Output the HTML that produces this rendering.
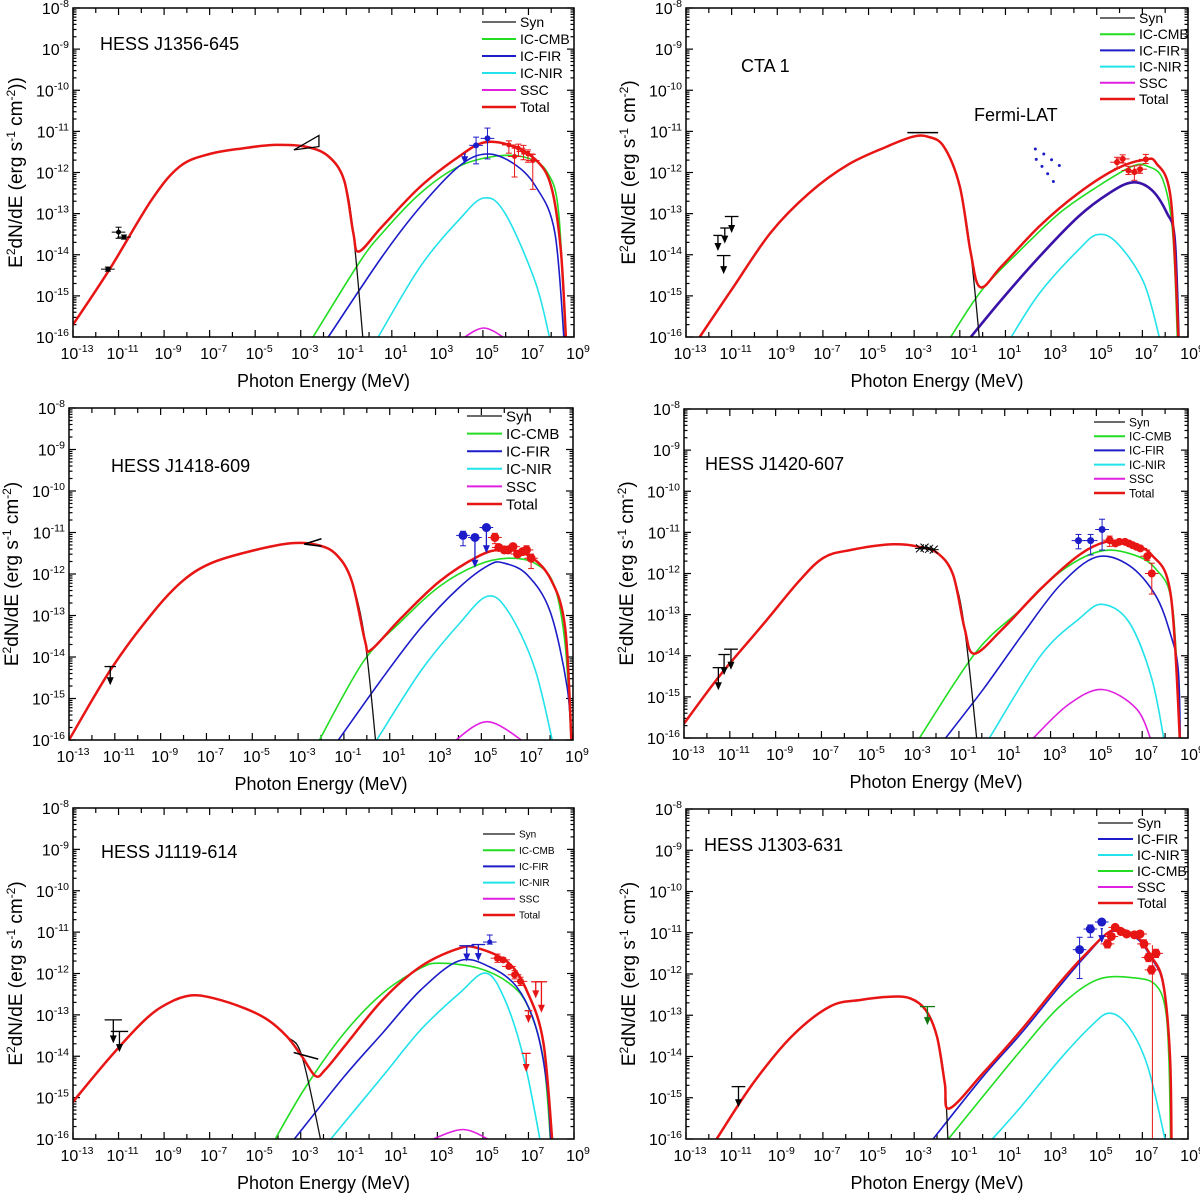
<!DOCTYPE html>
<html><head><meta charset="utf-8"><style>
html,body{margin:0;padding:0;background:#fff}
svg{display:block;font-family:"Liberation Sans",Arial,sans-serif}
</style></head><body>
<svg id="chart" xmlns="http://www.w3.org/2000/svg" width="1200" height="1193" viewBox="0 0 1200 1193"></svg>
<script>
// ===== shared axis data =====
const xTickExps = [-13,-11,-9,-7,-5,-3,-1,1,3,5,7,9];
const yTickExps = [-16,-15,-14,-13,-12,-11,-10,-9,-8];

// ===== Panel 1: HESS J1356-645 =====
const p1Total = [[-13,-15.7],[-11.4,-14.36],[-9.54,-12.66],[-8.3,-11.85],[-7.0,-11.55],[-5.5,-11.41],[-4.15,-11.33],[-2.8,-11.37],[-1.8,-11.6],[-1.1,-12.18],[-0.69,-13.47],[-0.44,-13.92],[0.58,-13.31],[2.26,-12.34],[3.95,-11.61],[5.04,-11.27],[6.14,-11.33],[7.32,-11.69],[8.0,-12.34],[8.42,-13.88],[8.67,-16.3]];
const p1Syn = [[-13,-15.7],[-11.4,-14.36],[-9.54,-12.66],[-8.3,-11.85],[-7.0,-11.55],[-5.5,-11.41],[-4.15,-11.33],[-2.8,-11.37],[-1.8,-11.6],[-1.1,-12.18],[-0.69,-13.47],[-0.23,-16.3]];
const p1Cmb = [[-2.46,-16],[-0.44,-14.2],[0.58,-13.47],[2.26,-12.5],[3.95,-11.85],[5.63,-11.6],[6.98,-11.65],[7.83,-12.0],[8.33,-12.99],[8.64,-16.3]];
const p1Fir = [[-1.79,-16],[0.58,-14.04],[2.26,-12.83],[3.95,-11.85],[5.13,-11.55],[6.31,-11.77],[7.32,-12.34],[8.16,-13.47],[8.59,-16.3]];
const p1Nir = [[0.4,-16],[2.26,-14.28],[3.95,-13.15],[5.04,-12.62],[5.97,-12.99],[7.32,-14.69],[8.0,-16.2]];
const p1Ssc = [[3.95,-16.1],[5.04,-15.78],[6.14,-16.1]];
const p1BlackPts = [[-11.0,-13.45,0.15,0.12],[-10.76,-13.57,0.05,0.05],[-11.47,-14.35,0.05,0.05]];
const p1BluePts = [[4.7,-11.34,0.45,0.2],[5.2,-11.17,0.5,0.25]];
const p1BlueUL = [[4.2,-11.55,0.05,0.25]];
const p1RedPts = [[6.14,-11.33,0.2,0.1],[6.39,-11.61,0.5,0.25],[6.56,-11.41,0.2,0.1],[6.78,-11.49,0.2,0.15],[6.98,-11.55,0.2,0.1],[7.19,-11.71,0.7,0.15]];
const p1Butterfly = [[-3.3,-11.45],[-2.2,-11.1],[-2.2,-11.37]];

// ===== Panel 2: CTA 1 =====
const p2Total = [[-12.4,-16],[-11,-14.85],[-9.3,-13.47],[-7.6,-12.5],[-5.9,-11.81],[-4.2,-11.37],[-3.05,-11.13],[-2.4,-11.13],[-1.7,-11.37],[-1.0,-12.34],[-0.52,-13.96],[-0.1,-14.79],[0.83,-14.28],[2.5,-13.3],[4.2,-12.5],[5.9,-11.9],[7.1,-11.69],[7.6,-11.77],[8.25,-12.66],[8.6,-16.3]];
const p2Syn = [[-12.4,-16],[-11,-14.85],[-9.3,-13.47],[-7.6,-12.5],[-5.9,-11.81],[-4.2,-11.37],[-3.05,-11.13],[-2.4,-11.13],[-1.7,-11.37],[-1.0,-12.34],[-0.52,-13.96],[-0.1,-16.3]];
const p2Cmb = [[-1.4,-16],[-0.02,-14.85],[1.67,-13.88],[3.36,-12.99],[5.04,-12.34],[6.56,-11.85],[7.24,-11.85],[7.9,-12.18],[8.33,-13.47],[8.55,-16.3]];
const p2Fir = [[-0.52,-16],[0.83,-15.09],[2.5,-14.04],[4.2,-13.07],[5.55,-12.5],[6.56,-12.24],[7.4,-12.42],[8.08,-12.99],[8.42,-13.64],[8.6,-16.3]];
const p2Nir = [[1.25,-16],[2.5,-14.93],[4.2,-13.88],[5.04,-13.51],[5.9,-13.72],[7.07,-14.69],[7.83,-16.2]];
const p2BlackUL = [[-11.6,-13.53,0.2,0.38],[-11.3,-13.35,0.2,0.38],[-11.0,-13.07,0.3,0.4],[-11.35,-14.02,0.3,0.45]];
const p2RedPts = [[5.89,-11.75,0.15,0.12],[6.14,-11.67,0.1,0.1],[6.39,-11.95,0.1,0.1],[6.65,-11.99,0.2,0.15],[6.9,-11.92,0.1,0.1],[7.15,-11.68,0.1,0.12]];
const p2FermiE = [2.31,2.68,3.02,3.36,2.35,2.6,2.85,3.1];
const p2FermiF = [-11.43,-11.55,-11.69,-11.83,-11.68,-11.85,-12.03,-12.22];
const p2Segs = [[-3.3,-11.03,-1.95,-11.03]];

// ===== Panel 3: HESS J1418-609 =====
const p3Total = [[-13,-16],[-11.14,-14.27],[-9.3,-12.9],[-8.0,-12.15],[-6.8,-11.74],[-5.15,-11.46],[-3.32,-11.26],[-2.15,-11.3],[-1.32,-11.54],[-0.65,-12.18],[-0.07,-13.63],[0.18,-13.83],[1.5,-13.06],[3.17,-12.18],[4.84,-11.58],[5.84,-11.42],[7.0,-11.54],[8.0,-12.1],[8.66,-13.31],[8.95,-16.3]];
const p3Syn = [[-13,-16],[-11.14,-14.27],[-9.3,-12.9],[-8.0,-12.15],[-6.8,-11.74],[-5.15,-11.46],[-3.32,-11.26],[-2.15,-11.3],[-1.32,-11.54],[-0.65,-12.18],[-0.07,-13.63],[0.43,-16.3]];
const p3Cmb = [[-2.07,-16],[-0.15,-14.11],[1.5,-13.14],[3.17,-12.3],[4.84,-11.78],[6.17,-11.62],[7.33,-11.74],[8.17,-12.26],[8.66,-13.71],[8.95,-16.3]];
const p3Fir = [[-1.24,-16],[0.68,-14.51],[2.34,-13.31],[4.0,-12.34],[5.34,-11.78],[6.0,-11.74],[7.0,-12.02],[8.0,-12.9],[8.75,-14.75],[8.95,-16.3]];
const p3Nir = [[0.43,-16],[2.34,-14.35],[4.0,-13.22],[5.25,-12.54],[6.17,-12.9],[7.33,-14.27],[8.17,-16.2]];
const p3Ssc = [[3.67,-16.1],[5.25,-15.56],[7.0,-16.1]];
const p3BlackUL = [[-11.2,-14.23,0.25,0.45]];
const p3BluePts = [[4.2,-11.07,0.25,0.1],[4.72,-11.12,0.03,0.03],[5.22,-10.88,0.05,0.05]];
const p3BlueUL = [[4.72,-11.15,0.2,0.7],[5.22,-10.9,0.2,0.6]];
const p3RedPts = [[5.59,-11.12,0.15,0.1],[5.76,-11.36,0.05,0.05],[6.0,-11.42,0.05,0.05],[6.17,-11.42,0.05,0.05],[6.38,-11.34,0.05,0.05],[6.58,-11.52,0.05,0.05],[6.8,-11.46,0.05,0.05],[6.97,-11.42,0.1,0.1],[7.17,-11.62,0.25,0.1]];
const p3Segs = [[-2.73,-11.28,-1.98,-11.15],[-2.73,-11.28,-1.98,-11.33]];

// ===== Panel 4: HESS J1420-607 =====
const p4Total = [[-13,-15.65],[-11.42,-14.47],[-9.58,-13.26],[-8.0,-12.2],[-6.92,-11.62],[-5.75,-11.43],[-3.92,-11.29],[-2.75,-11.35],[-1.92,-11.51],[-1.25,-12.04],[-0.75,-13.34],[-0.33,-13.95],[0.92,-13.34],[2.58,-12.37],[4.25,-11.55],[5.42,-11.23],[6.42,-11.27],[7.42,-11.55],[8.25,-12.53],[8.67,-16.3]];
const p4Syn = [[-13,-15.65],[-11.42,-14.47],[-9.58,-13.26],[-8.0,-12.2],[-6.92,-11.62],[-5.75,-11.43],[-3.92,-11.29],[-2.75,-11.35],[-1.92,-11.51],[-1.25,-12.04],[-0.75,-13.34],[-0.17,-16.3]];
const p4Cmb = [[-2.72,-16],[-0.25,-13.91],[1.75,-12.85],[3.42,-11.96],[5.08,-11.47],[6.42,-11.51],[7.58,-11.88],[8.33,-12.85],[8.67,-16.3]];
const p4Fir = [[-1.58,-16],[0.08,-14.8],[1.75,-13.5],[3.42,-12.28],[5.0,-11.6],[6.42,-11.8],[7.58,-12.53],[8.25,-13.5],[8.58,-14.39],[8.67,-16.3]];
const p4Nir = [[0.33,-16],[2.58,-13.99],[4.25,-13.1],[5.25,-12.75],[6.42,-13.18],[7.42,-14.56],[8.0,-16.2]];
const p4Ssc = [[2.25,-16],[3.75,-15.2],[5.25,-14.82],[6.75,-15.29],[7.42,-16.1]];
const p4BlackUL = [[-11.5,-14.29,0.25,0.55],[-11.25,-13.97,0.25,0.5],[-10.95,-13.84,0.3,0.5]];
const p4BluePts = [[4.22,-11.2,0.2,0.15],[4.75,-11.2,0.35,0.15],[5.25,-10.93,0.5,0.25]];
const p4RedPts = [[5.58,-11.19,0.15,0.1],[5.83,-11.27,0.05,0.05],[6.0,-11.23,0.05,0.05],[6.25,-11.23,0.05,0.05],[6.42,-11.27,0.05,0.05],[6.58,-11.31,0.05,0.05],[6.75,-11.35,0.05,0.05],[6.92,-11.39,0.05,0.05],[7.22,-11.58,0.1,0.15],[7.42,-12.0,0.5,0.25]];
const p4Stars = [[-2.7,-11.39],[-2.5,-11.37],[-2.3,-11.4],[-2.1,-11.42]];

// ===== Panel 5: HESS J1119-614 =====
const p5Total = [[-13,-15.1],[-11.35,-14.01],[-9.84,-13.12],[-8.83,-12.72],[-7.82,-12.53],[-6.81,-12.6],[-5.46,-12.84],[-4.45,-13.12],[-3.61,-13.52],[-2.94,-14.01],[-2.35,-14.48],[-1.93,-14.33],[-1.09,-13.77],[0.59,-12.64],[2.27,-11.83],[3.96,-11.39],[4.8,-11.39],[6.14,-11.75],[6.98,-12.48],[7.66,-13.69],[8.08,-16.3]];
const p5Syn = [[-13,-15.1],[-11.35,-14.01],[-9.84,-13.12],[-8.83,-12.72],[-7.82,-12.53],[-6.81,-12.6],[-5.46,-12.84],[-4.45,-13.12],[-3.61,-13.52],[-2.94,-14.01],[-2.02,-16.3]];
const p5Cmb = [[-4.12,-16],[-2.77,-14.73],[-1.09,-13.44],[0.59,-12.48],[2.27,-11.87],[3.11,-11.75],[4.8,-11.87],[6.14,-12.23],[6.98,-12.8],[7.66,-14.09],[8.0,-16.3]];
const p5Fir = [[-3.28,-16],[-1.09,-14.49],[0.59,-13.44],[2.27,-12.4],[3.96,-11.69],[5.3,-11.84],[6.48,-12.32],[7.32,-13.28],[7.82,-14.73],[8.0,-16.3]];
const p5Nir = [[-1.68,-16],[0.59,-14.49],[2.27,-13.36],[3.96,-12.48],[5.13,-11.99],[5.97,-12.64],[6.81,-14.09],[7.57,-16.2]];
const p5Ssc = [[2.61,-16.05],[4.12,-15.77],[5.38,-16.05]];
const p5BlackUL = [[-11.23,-13.12,0.38,0.57],[-10.96,-13.4,0.38,0.5]];
const p5BlueUL = [[4.29,-11.33,0.33,0.38],[4.8,-11.3,0.3,0.4]];
const p5BluePts = [[5.3,-11.24,0.05,0.17]];
const p5RedPts = [[5.64,-11.63,0.1,0.1],[5.89,-11.67,0.05,0.05],[6.14,-11.83,0.05,0.05],[6.39,-12.03,0.1,0.1],[6.65,-12.19,0.1,0.1]];
const p5RedUL = [[7.0,-12.9,0.17,0.3],[7.32,-12.2,0.2,0.4],[7.57,-12.2,0.25,0.75],[6.9,-13.93,0.2,0.45]];
const p5Segs = [[-3.31,-13.91,-2.23,-14.07]];

// ===== Panel 6: HESS J1303-631 =====
const p6Total = [[-11.66,-16],[-10.06,-14.65],[-8.38,-13.52],[-6.7,-12.79],[-5.36,-12.63],[-4.02,-12.55],[-3.18,-12.59],[-2.5,-12.87],[-2.0,-13.52],[-1.66,-14.65],[-1.46,-15.26],[0.01,-14.41],[1.69,-13.36],[3.37,-12.22],[4.55,-11.5],[5.72,-10.93],[6.73,-11.09],[7.4,-11.58],[7.91,-12.22],[8.21,-14.0],[8.28,-16.3]];
const p6Syn = [[-11.66,-16],[-10.06,-14.65],[-8.38,-13.52],[-6.7,-12.79],[-5.36,-12.63],[-4.02,-12.55],[-3.18,-12.59],[-2.5,-12.87],[-2.0,-13.52],[-1.66,-14.65],[-1.5,-16.3]];
const p6Fir = [[-2.17,-16],[0.01,-14.49],[1.69,-13.44],[3.37,-12.3],[4.55,-11.54],[5.64,-10.97],[6.73,-11.13],[7.4,-11.62],[7.91,-12.26],[8.21,-14.0],[8.27,-16.3]];
const p6Cmb = [[-1.5,-16],[0.01,-14.97],[1.69,-13.84],[3.37,-12.79],[5.06,-12.13],[6.73,-12.1],[7.57,-12.26],[7.99,-12.79],[8.16,-14.0],[8.24,-16.3]];
const p6Nir = [[0.43,-16],[1.69,-15.21],[3.37,-14.08],[4.72,-13.28],[5.56,-12.95],[6.4,-13.28],[7.24,-14.25],[8.07,-16.2]];
const p6BlackUL = [[-10.7,-14.73,0.3,0.5]];
const p6GreenUL = [[-2.42,-12.79,0.33,0.45]];
const p6BluePts = [[4.25,-11.41,0.7,0.3],[4.72,-10.91,0.2,0.1],[5.22,-10.74,0.05,0.05]];
const p6BlueUL = [[5.22,-10.9,0.05,0.35]];
const p6RedPts = [[5.47,-11.27,0.1,0.1],[5.64,-11.09,0.05,0.05],[5.81,-10.87,0.05,0.05],[6.06,-10.97,0.05,0.05],[6.31,-11.03,0.05,0.05],[6.65,-11.05,0.05,0.05],[6.9,-11.03,0.05,0.05],[7.07,-11.27,0.1,0.1],[7.27,-11.6,0.1,0.1],[7.4,-11.9,0.1,0.1],[7.6,-11.5,0.1,0.1]];
const p6RedLine = [[7.44,-11.3],[7.44,-16]];

// ===== drawing =====
const NS = 'http://www.w3.org/2000/svg';
const svg = document.getElementById('chart');
function mk(tag, attrs, parent){
  const e = document.createElementNS(NS, tag);
  for (const k in attrs) e.setAttribute(k, attrs[k]);
  (parent || svg).appendChild(e);
  return e;
}
const C = {red:'#e81515', green:'#22dd22', blue:'#1c1cc8', cyan:'#22e2ea', mag:'#e020e0', black:'#111'};

function curvePath(pts, sx, sy){
  const P = pts.map(p => [sx(p[0]), sy(p[1])]);
  let d = 'M' + P[0][0].toFixed(1) + ',' + P[0][1].toFixed(1);
  for (let i = 0; i < P.length - 1; i++){
    const p0 = P[i-1] || P[i], p1 = P[i], p2 = P[i+1], p3 = P[i+2] || P[i+1];
    const c1x = p1[0] + (p2[0]-p0[0])/6, c1y = p1[1] + (p2[1]-p0[1])/6;
    const c2x = p2[0] - (p3[0]-p1[0])/6, c2y = p2[1] - (p3[1]-p1[1])/6;
    d += ' C' + c1x.toFixed(1)+','+c1y.toFixed(1)+' '+c2x.toFixed(1)+','+c2y.toFixed(1)+' '+p2[0].toFixed(1)+','+p2[1].toFixed(1);
  }
  return d;
}

function drawPanel(cfg){
  const g = mk('g', {});
  
  
  const {x0,x1,y0,y1} = cfg;
  const sx = e => x0 + (e + 13) / 22 * (x1 - x0);
  const sy = f => y0 + (-8 - f) / 8 * (y1 - y0);
  const clipId = 'clip-' + cfg.name;
  const cp = mk('clipPath', {id: clipId}, g);
  mk('rect', {x:x0, y:y0, width:x1-x0, height:y1-y0}, cp);

  const ticks = mk('g', {stroke:'#000', 'stroke-width':1.2}, g);
  
  
  for (let e = -13; e <= 9; e++){
    const x = sx(e), L = (e % 2 !== 0) ? 7 : 5;
    mk('line', {x1:x, x2:x, y1:y1, y2:y1-L}, ticks);
    mk('line', {x1:x, x2:x, y1:y0, y2:y0+L}, ticks);
  }
  for (let f = -16; f <= -8; f++){
    const y = sy(f);
    mk('line', {x1:x0, x2:x0+7, y1:y, y2:y}, ticks);
    mk('line', {x1:x1, x2:x1-7, y1:y, y2:y}, ticks);
    if (f < -8) for (let m = 2; m <= 9; m++){
      const ym = sy(f + Math.log10(m));
      mk('line', {x1:x0, x2:x0+3.5, y1:ym, y2:ym}, ticks);
      mk('line', {x1:x1, x2:x1-3.5, y1:ym, y2:ym}, ticks);
    }
  }
  xTickExps.forEach(e => {
    const t = mk('text', {x:sx(e)+4, y:y1+22, 'font-size':16, 'text-anchor':'middle', fill:'#000'}, g);
    
    
    t.textContent = '10';
    const s = mk('tspan', {dy:-7, 'font-size':10.5}, t); s.textContent = String(e);
  });
  yTickExps.forEach(f => {
    const t = mk('text', {x:x0-4, y:sy(f)+6, 'font-size':16, 'text-anchor':'end', fill:'#000'}, g);
    
    
    t.textContent = '10';
    const s = mk('tspan', {dy:-7, 'font-size':10.5}, t); s.textContent = String(f);
  });
  const xt = mk('text', {x:(x0+x1)/2, y:y1+50, 'font-size':18, 'text-anchor':'middle', fill:'#000'}, g);
  
  
  xt.textContent = 'Photon Energy (MeV)';
  const yc = (y0+y1)/2, xc = x0 - 51;
  const yt = mk('text', {x:xc, y:yc, 'font-size':19, 'text-anchor':'middle', fill:'#000', transform:'rotate(-90 '+xc+' '+yc+')'}, g);
  
  
  const parts = [['E',0],['2',1],['dN/dE (erg s',0],['-1',1],[' cm',0],['-2',1],[cfg.extraParen ? '))' : ')',0]];
  parts.forEach(p => { const s = mk('tspan', p[1] ? {'baseline-shift':'super','font-size':12} : {}, yt); s.textContent = p[0]; });

  const cg = mk('g', {'clip-path':'url(#'+clipId+')', fill:'none', 'stroke-linejoin':'round'}, g);
  cfg.series.forEach(s => {
    const p = mk('path', {d:curvePath(s.pts, sx, sy), stroke:s.color, 'stroke-width':s.w}, cg);
    
    
  });
  (cfg.segs || []).forEach(sg => {
    const l = mk('line', {x1:sx(sg[0]), y1:sy(sg[1]), x2:sx(sg[2]), y2:sy(sg[3]), stroke:'#000', 'stroke-width':1.5}, g);
    
    
  });
  if (cfg.butterfly){
    const pl = mk('polygon', {points:cfg.butterfly.map(p => sx(p[0])+','+sy(p[1])).join(' '), fill:'none', stroke:'#000', 'stroke-width':1.3}, g);
    
    
  }
  (cfg.points || []).forEach(set => set.data.forEach(d => {
    const x = sx(d[0]), y = sy(d[1]);
    const pg = mk('g', {stroke:set.color, fill:set.color, 'stroke-width':1}, g);
    
    
    const yl = sy(d[1]-d[2]), yh = sy(d[1]+d[3]), hw = 0.3/22*(x1-x0);
    mk('line', {x1:x, x2:x, y1:yl, y2:yh}, pg);
    mk('line', {x1:x-3, x2:x+3, y1:yl, y2:yl}, pg);
    mk('line', {x1:x-3, x2:x+3, y1:yh, y2:yh}, pg);
    mk('line', {x1:x-hw, x2:x+hw, y1:y, y2:y}, pg);
    mk('circle', {cx:x, cy:y, r:set.r, stroke:'none'}, pg);
  }));
  (cfg.uls || []).forEach(set => set.data.forEach(d => {
    const x = sx(d[0]), y = sy(d[1]), hw = d[2]/22*(x1-x0), y2 = sy(d[1]-d[3]);
    const ug = mk('g', {stroke:set.color, fill:set.color, 'stroke-width':1.3}, g);
    
    
    mk('line', {x1:x-hw, x2:x+hw, y1:y, y2:y}, ug);
    mk('line', {x1:x, x2:x, y1:y, y2:y2-6}, ug);
    mk('polygon', {points:(x-3.5)+','+(y2-8)+' '+(x+3.5)+','+(y2-8)+' '+x+','+y2, stroke:'none'}, ug);
  }));
  if (cfg.dots){
    cfg.dots.e.forEach((e, i) => {
      const c = mk('circle', {cx:sx(e), cy:sy(cfg.dots.f[i]), r:1.5, fill:C.blue}, g);
      
      
    });
  }
  if (cfg.stars){
    cfg.stars.forEach(s => {
      const x = sx(s[0]), y = sy(s[1]);
      const sg = mk('g', {stroke:'#000', 'stroke-width':1}, g);
      
      
      mk('line', {x1:x-5, x2:x+5, y1:y, y2:y}, sg);
      mk('line', {x1:x-4, x2:x+4, y1:y-4, y2:y+4}, sg);
      mk('line', {x1:x-4, x2:x+4, y1:y+4, y2:y-4}, sg);
    });
  }
  if (cfg.redLine){
    const l = mk('line', {x1:sx(cfg.redLine[0][0]), y1:sy(cfg.redLine[0][1]), x2:sx(cfg.redLine[1][0]), y2:sy(cfg.redLine[1][1]), stroke:C.red, 'stroke-width':1}, g);
    
    
  }
  const fr = mk('rect', {x:x0, y:y0, width:x1-x0, height:y1-y0, fill:'none', stroke:'#000', 'stroke-width':1.5}, g);
  
  
  cfg.titles.forEach(tt => {
    const t = mk('text', {x:tt[1], y:tt[2], 'font-size':tt[3], fill:'#000'}, g);
    
    
    t.textContent = tt[0];
  });
  const L = cfg.legend;
  const lg = mk('g', {}, g);
  
  
  L.items.forEach((it, i) => {
    const y = L.y + i * L.dy;
    const e = mk('g', {}, lg);
    
    
    mk('line', {x1:L.x, x2:L.x+L.len, y1:y, y2:y, stroke:it[1], 'stroke-width':it[2]}, e);
    const t = mk('text', {x:L.x+L.len+4, y:y+L.fs*0.36, 'font-size':L.fs, fill:'#000'}, e);
    t.textContent = it[0];
  });
}

const legStd = [['Syn',C.black,1.3],['IC-CMB',C.green,2],['IC-FIR',C.blue,2],['IC-NIR',C.cyan,2],['SSC',C.mag,2],['Total',C.red,2.5]];

drawPanel({name:'panel-hess-j1356', x0:73, x1:574, y0:8, y1:337, extraParen:true,
  titles:[['HESS J1356-645',100,50,18]],
  legend:{x:482, y:22, dy:17, len:34, fs:14, items:legStd},
  series:[{label:'ic-nir',pts:p1Nir,color:C.cyan,w:1.6},{label:'ssc',pts:p1Ssc,color:C.mag,w:1.6},{label:'ic-cmb',pts:p1Cmb,color:C.green,w:1.6},{label:'ic-fir',pts:p1Fir,color:C.blue,w:1.6},{label:'syn',pts:p1Syn,color:C.black,w:1.3},{label:'total',pts:p1Total,color:C.red,w:2.5}],
  butterfly:p1Butterfly,
  points:[{name:'radio-point',color:'#000',r:2.5,data:p1BlackPts},{name:'fermi-point',color:C.blue,r:3,data:p1BluePts},{name:'hess-point',color:C.red,r:2.5,data:p1RedPts}],
  uls:[{name:'fermi-upper-limit',color:C.blue,data:p1BlueUL}]});

drawPanel({name:'panel-cta1', x0:686, x1:1188, y0:8, y1:337,
  titles:[['CTA 1',741,72,18],['Fermi-LAT',974,121,18]],
  legend:{x:1100, y:18, dy:16.2, len:35, fs:14, items:legStd},
  series:[{label:'ic-nir',pts:p2Nir,color:C.cyan,w:1.6},{label:'ic-cmb',pts:p2Cmb,color:C.green,w:1.6},{label:'ic-fir',pts:p2Fir,color:'#3a12a8',w:2.6},{label:'syn',pts:p2Syn,color:C.black,w:1.3},{label:'total',pts:p2Total,color:C.red,w:2.5}],
  segs:p2Segs, dots:{e:p2FermiE, f:p2FermiF},
  points:[{name:'veritas-point',color:C.red,r:3,data:p2RedPts}],
  uls:[{name:'radio-upper-limit',color:'#000',data:p2BlackUL}]});

drawPanel({name:'panel-hess-j1418', x0:69, x1:573, y0:408, y1:740,
  titles:[['HESS J1418-609',111,472,18]],
  legend:{x:467, y:416, dy:17.6, len:35, fs:15, items:legStd},
  series:[{label:'ic-nir',pts:p3Nir,color:C.cyan,w:1.6},{label:'ssc',pts:p3Ssc,color:C.mag,w:1.6},{label:'ic-cmb',pts:p3Cmb,color:C.green,w:1.6},{label:'ic-fir',pts:p3Fir,color:C.blue,w:1.6},{label:'syn',pts:p3Syn,color:C.black,w:1.3},{label:'total',pts:p3Total,color:C.red,w:2.5}],
  segs:p3Segs,
  points:[{name:'fermi-point',color:C.blue,r:4.5,data:p3BluePts},{name:'hess-point',color:C.red,r:4.5,data:p3RedPts}],
  uls:[{name:'radio-upper-limit',color:'#000',data:p3BlackUL},{name:'fermi-upper-limit',color:C.blue,data:p3BlueUL}]});

drawPanel({name:'panel-hess-j1420', x0:684, x1:1188, y0:409, y1:738,
  titles:[['HESS J1420-607',705,470,18]],
  legend:{x:1094, y:422, dy:14.2, len:31, fs:12, items:legStd},
  series:[{label:'ic-nir',pts:p4Nir,color:C.cyan,w:1.6},{label:'ssc',pts:p4Ssc,color:C.mag,w:1.6},{label:'ic-cmb',pts:p4Cmb,color:C.green,w:1.6},{label:'ic-fir',pts:p4Fir,color:C.blue,w:1.6},{label:'syn',pts:p4Syn,color:C.black,w:1.3},{label:'total',pts:p4Total,color:C.red,w:2.5}],
  stars:p4Stars,
  points:[{name:'fermi-point',color:C.blue,r:3.5,data:p4BluePts},{name:'hess-point',color:C.red,r:4,data:p4RedPts}],
  uls:[{name:'radio-upper-limit',color:'#000',data:p4BlackUL}]});

drawPanel({name:'panel-hess-j1119', x0:73, x1:574, y0:808, y1:1139,
  titles:[['HESS J1119-614',101,858,18]],
  legend:{x:483, y:834, dy:16.2, len:32, fs:10, items:legStd},
  series:[{label:'ic-nir',pts:p5Nir,color:C.cyan,w:1.6},{label:'ssc',pts:p5Ssc,color:C.mag,w:1.6},{label:'ic-cmb',pts:p5Cmb,color:C.green,w:1.6},{label:'ic-fir',pts:p5Fir,color:C.blue,w:1.6},{label:'syn',pts:p5Syn,color:C.black,w:1.3},{label:'total',pts:p5Total,color:C.red,w:2.5}],
  segs:p5Segs,
  points:[{name:'fermi-point',color:C.blue,r:2.5,data:p5BluePts},{name:'hess-point',color:C.red,r:3.5,data:p5RedPts}],
  uls:[{name:'radio-upper-limit',color:'#000',data:p5BlackUL},{name:'fermi-upper-limit',color:C.blue,data:p5BlueUL},{name:'hess-upper-limit',color:C.red,data:p5RedUL}]});

drawPanel({name:'panel-hess-j1303', x0:686, x1:1188, y0:809, y1:1139,
  titles:[['HESS J1303-631',704,851,18]],
  legend:{x:1098, y:823, dy:16, len:35, fs:14, items:[['Syn',C.black,1.3],['IC-FIR',C.blue,2],['IC-NIR',C.cyan,2],['IC-CMB',C.green,2],['SSC',C.mag,2],['Total',C.red,2.5]]},
  series:[{label:'ic-nir',pts:p6Nir,color:C.cyan,w:1.6},{label:'ic-cmb',pts:p6Cmb,color:C.green,w:1.6},{label:'ic-fir',pts:p6Fir,color:C.blue,w:1.6},{label:'syn',pts:p6Syn,color:C.black,w:1.3},{label:'total',pts:p6Total,color:C.red,w:2.5}],
  redLine:p6RedLine,
  points:[{name:'fermi-point',color:C.blue,r:4.5,data:p6BluePts},{name:'hess-point',color:C.red,r:4.5,data:p6RedPts}],
  uls:[{name:'radio-upper-limit',color:'#000',data:p6BlackUL},{name:'xray-upper-limit',color:'#117711',data:p6GreenUL},{name:'fermi-upper-limit',color:C.blue,data:p6BlueUL}]});
</script>
</body></html>
